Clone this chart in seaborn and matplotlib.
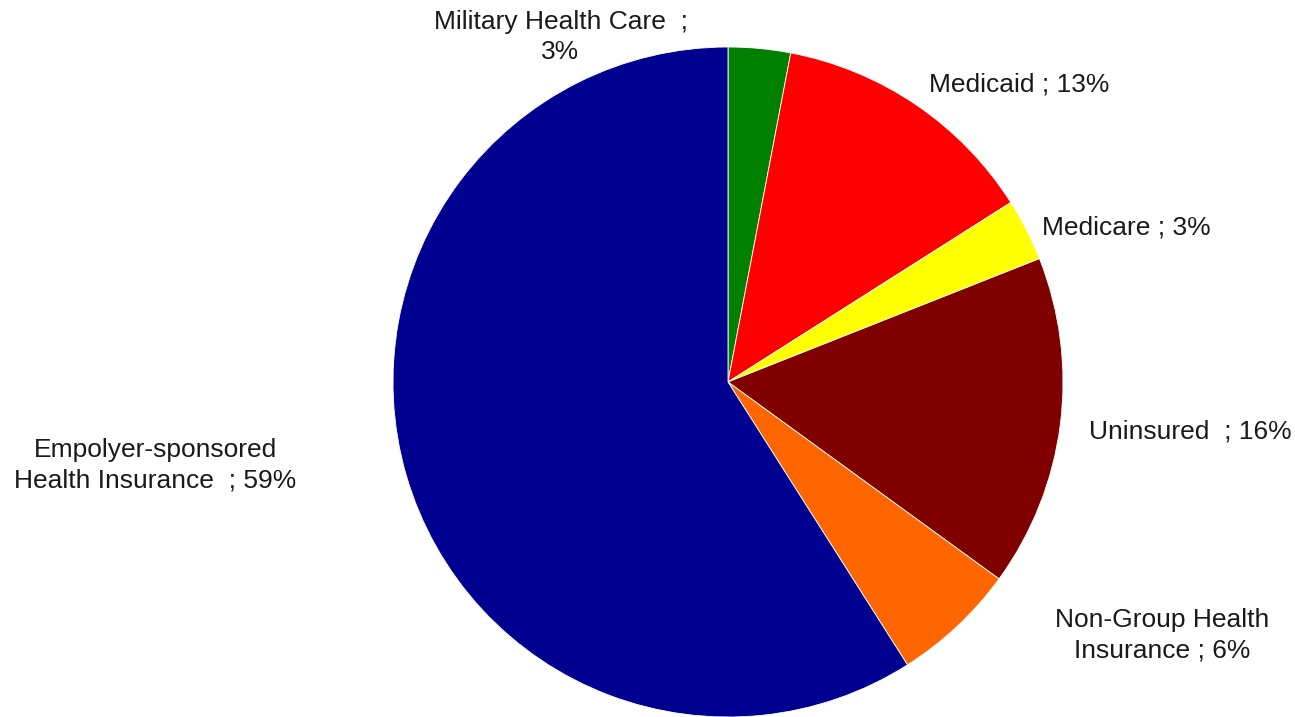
import matplotlib
matplotlib.use('Agg')
import matplotlib.pyplot as plt
import seaborn as sns

# Data (shares of coverage, clockwise from top)
categories = ['Military Health Care  ;\n3%', 'Medicaid ; 13%', 'Medicare ; 3%',
              'Uninsured  ; 16%', 'Non-Group Health\nInsurance ; 6%',
              'Empolyer-sponsored\nHealth Insurance  ; 59%']
shares = [3, 13, 3, 16, 6, 59]
colors = ['#008000', '#FF0000', '#FFFF00', '#800000', '#FF6600', '#000090']

# label positions in pie-radius units (layout only)
label_pos = [(-0.50, 1.03), (0.87, 0.887), (1.19, 0.46),
             (1.38, -0.149), (1.296, -0.755), (-1.71, -0.248)]

sns.set_theme(style='white')
plt.rcParams['font.family'] = ['Liberation Sans', 'DejaVu Sans']

fig = plt.figure(figsize=(12.95, 7.17), dpi=100)
ax = fig.add_axes([0, 0, 1, 1])

palette = sns.color_palette(colors)
ax.pie(shares, colors=palette, startangle=90, counterclock=False,
       radius=1.0, wedgeprops=dict(edgecolor='white', linewidth=0.6))

for lab, (x, y) in zip(categories, label_pos):
    ax.text(x, y, lab, ha='center', va='center', fontsize=19,
            color='#1a1a1a', multialignment='center', linespacing=1.35)

# center at pixel (728, 382), radius 335 px
sc = 335.0
ax.set_aspect('auto')
ax.set_xlim(-728 / sc, (1295 - 728) / sc)
ax.set_ylim(-(717 - 382) / sc, 382 / sc)
ax.axis('off')

fig.savefig('out.png', dpi=100)
